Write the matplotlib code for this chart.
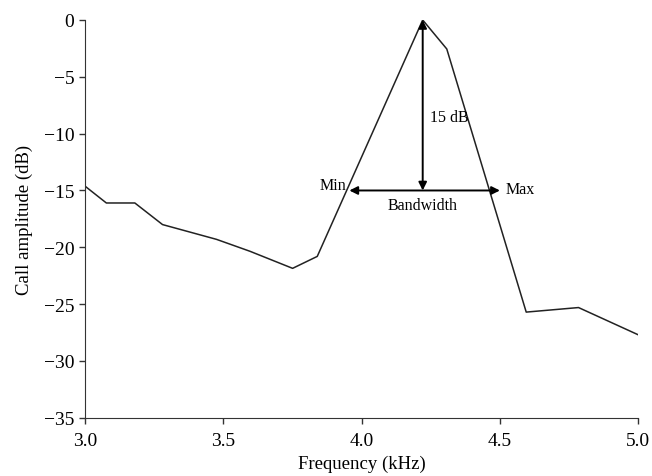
import matplotlib
matplotlib.use("Agg")
import matplotlib.pyplot as plt

# Dados
freq = [3.0, 3.078, 3.181, 3.281, 3.476, 3.597, 3.751, 3.840, 4.221, 4.308, 4.595, 4.784, 5.0]
amp = [-14.6, -16.1, -16.1, -18.0, -19.3, -20.35, -21.85, -20.8, 0.0, -2.55, -25.7, -25.3, -27.7]

xticks = [3.0, 3.5, 4.0, 4.5, 5.0]
yticks = [0, -5, -10, -15, -20, -25, -30, -35]

pico_x = 4.221
min_x = 3.956
max_x = 4.500
nivel = -15

plt.rcParams['font.family'] = ['Liberation Serif', 'DejaVu Serif']

fig = plt.figure(figsize=(6.52, 4.77), dpi=100)
ax = fig.add_axes([0.130, 0.122, 0.849, 0.834])

ax.plot(freq, amp, color='#222222', linewidth=1.1)

# Setas de anotação
seta = dict(arrowstyle='<|-|>', color='black', lw=1.4, mutation_scale=12, shrinkA=0, shrinkB=0)
ax.annotate('', xy=(pico_x, nivel), xytext=(pico_x, 0), arrowprops=seta)
ax.annotate('', xy=(min_x, nivel), xytext=(max_x, nivel), arrowprops=seta)

ax.text(pico_x + 0.025, -8.5, '15 dB', ha='left', va='center', fontsize=11.5)
ax.text(min_x - 0.01, -14.5, 'Min', ha='right', va='center', fontsize=11.5)
ax.text(max_x + 0.022, -14.9, 'Max', ha='left', va='center', fontsize=11.5)
ax.text(pico_x, -16.3, 'Bandwidth', ha='center', va='center', fontsize=11.5)

ax.set_xlim(3.0, 5.0)
ax.set_ylim(-35, 0)
ax.set_xticks(xticks)
ax.set_xticklabels([f'{v:.1f}' for v in xticks])
ax.set_yticks(yticks)
ax.set_yticklabels([str(v).replace('-', '\u2212') for v in yticks])

ax.spines['top'].set_visible(False)
ax.spines['right'].set_visible(False)
ax.spines['left'].set_color('#333333')
ax.spines['bottom'].set_color('#333333')
ax.tick_params(direction='out', length=4, width=1, colors='#333333', labelcolor='black', labelsize=14)
ax.tick_params(axis='x', pad=6)

ax.set_xlabel('Frequency (kHz)', fontsize=13.5, labelpad=4)
ax.set_ylabel('Call amplitude (dB)', fontsize=13.5, labelpad=8)

fig.savefig('out.png', dpi=100)
